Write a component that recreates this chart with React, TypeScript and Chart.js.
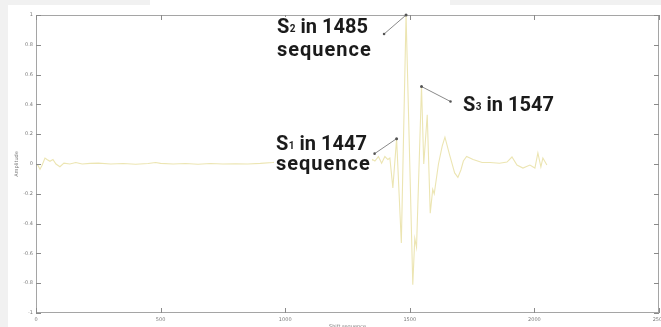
import React, { useEffect, useRef } from "react";
import { Chart, registerables } from "chart.js";

Chart.register(...registerables);

// Signal samples (sequence index, amplitude)
const seqIndex: number[] = [
  0, 8, 16, 24, 36, 44, 56, 68, 80, 96, 112, 136, 160, 185, 217, 250, 300, 350, 400, 450,
  480, 500, 550, 600, 650, 700, 750, 800, 850, 900, 950, 980, 1000, 1050, 1100, 1150, 1200,
  1250, 1300, 1340, 1350, 1360, 1374, 1387, 1400, 1412, 1420, 1432, 1447, 1466, 1485, 1512,
  1520, 1527, 1547, 1556, 1570, 1582, 1592, 1598, 1615, 1630, 1641, 1660, 1680, 1693, 1705,
  1715, 1728, 1754, 1790, 1822, 1860, 1890, 1910, 1930, 1954, 1982, 2002, 2014, 2026, 2034, 2050,
];
const amplitude: number[] = [
  0, -0.01, -0.035, -0.01, 0.04, 0.03, 0.018, 0.03, 0, -0.018, 0.006, 0, 0.01, 0, 0.004,
  0.006, 0, 0.003, -0.002, 0.003, 0.01, 0.004, 0, 0.003, -0.002, 0.003, 0, 0.002, 0, 0.004,
  0.01, 0.016, 0.005, 0.002, 0, 0.004, 0.01, 0.004, 0, 0.01, 0.03, 0.02, 0.05, 0.005, 0.05,
  0.03, 0.04, -0.16, 0.17, -0.53, 1.0, -0.81, -0.5, -0.56, 0.52, 0.0, 0.33, -0.33, -0.17,
  -0.2, 0.0, 0.12, 0.18, 0.06, -0.06, -0.09, -0.04, 0.02, 0.05, 0.03, 0.01, 0.01, 0.005,
  0.013, 0.047, -0.007, -0.027, -0.007, -0.027, 0.074, -0.02, 0.04, -0.007,
];

const xTicks: number[] = [0, 500, 1000, 1500, 2000, 2500];
const yTicks: number[] = [1, 0.8, 0.6, 0.4, 0.2, 0, -0.2, -0.4, -0.6, -0.8, -1];
const yTickLabels: string[] = ["1", "0.8", "0.6", "0.4", "0.2", "0", "-0.2", "-0.4", "-0.6", "-0.8", "-1"];

const annoSubscript: string[] = ["2", "3", "1"];
const annoSeq: number[] = [1485, 1547, 1447];
const annoAmp: number[] = [1.0, 0.52, 0.17];
const annoSecondLine: string[] = ["sequence", "", "sequence"];

const X_TITLE = "Shift sequence";
const Y_TITLE = "Amplitude";

const decorPlugin = {
  id: "decor",
  beforeDraw(chart: any) {
    const ctx = chart.ctx;
    ctx.save();
    ctx.fillStyle = "#f1f1f1";
    ctx.fillRect(0, 0, chart.width, chart.height);
    ctx.fillStyle = "#ffffff";
    ctx.fillRect(8, 5, chart.width - 8, chart.height - 5);
    ctx.fillRect(150, 0, 300, 5);
    ctx.restore();
  },
  afterDraw(chart: any) {
    const ctx = chart.ctx;
    const { left, right, top, bottom } = chart.chartArea;
    const xs = chart.scales.x;
    const ys = chart.scales.y;
    ctx.save();
    // box
    ctx.strokeStyle = "#a5a5a5";
    ctx.lineWidth = 1;
    ctx.strokeRect(Math.round(left) + 0.5, Math.round(top) + 0.5, Math.round(right - left) - 1, Math.round(bottom - top) - 1);
    // ticks
    ctx.strokeStyle = "#8a8a8a";
    ctx.beginPath();
    xTicks.forEach((v) => {
      const px = Math.round(xs.getPixelForValue(v)) + 0.5;
      ctx.moveTo(px, bottom);
      ctx.lineTo(px, bottom - 5);
      ctx.moveTo(px, top);
      ctx.lineTo(px, top + 5);
    });
    yTicks.forEach((v) => {
      const py = Math.round(ys.getPixelForValue(v)) + 0.5;
      ctx.moveTo(left, py);
      ctx.lineTo(left + 5, py);
      ctx.moveTo(right, py);
      ctx.lineTo(right - 5, py);
    });
    ctx.stroke();
    // tick labels
    ctx.fillStyle = "#7a7a7a";
    ctx.font = "5px 'DejaVu Sans'";
    ctx.textAlign = "right";
    ctx.textBaseline = "middle";
    yTicks.forEach((v, i) => {
      ctx.fillText(yTickLabels[i], left - 3, ys.getPixelForValue(v));
    });
    ctx.textAlign = "center";
    ctx.textBaseline = "top";
    xTicks.forEach((v) => {
      ctx.fillText(String(v), xs.getPixelForValue(v), bottom + 4);
    });
    // axis titles
    ctx.fillText(X_TITLE, (left + right) / 2, bottom + 11);
    ctx.save();
    ctx.translate(17, (top + bottom) / 2);
    ctx.rotate(-Math.PI / 2);
    ctx.textBaseline = "middle";
    ctx.fillText(Y_TITLE, 0, 0);
    ctx.restore();

    // annotations
    const textPos = [
      { x: 277, y: 33, gap: 23, dx: -22, dy: 19 },
      { x: 463, y: 111, gap: 0, dx: 29, dy: 15 },
      { x: 276, y: 150, gap: 20, dx: -22, dy: 15 },
    ];
    ctx.textAlign = "left";
    ctx.textBaseline = "alphabetic";
    annoSeq.forEach((_, i) => {
      const p = textPos[i];
      if (annoSecondLine[i]) {
        ctx.fillStyle = "#ffffff";
        ctx.fillRect(p.x - 2, p.y - 16, 98, p.gap + 22);
      }
    });
    annoSeq.forEach((seq, i) => {
      const p = textPos[i];
      const ax = xs.getPixelForValue(seq);
      const ay = ys.getPixelForValue(annoAmp[i]);
      const bx = ax + p.dx;
      const by = ay + p.dy;
      ctx.strokeStyle = "#8a8a8a";
      ctx.lineWidth = 1;
      ctx.beginPath();
      ctx.moveTo(ax, ay);
      ctx.lineTo(bx, by);
      ctx.stroke();
      ctx.fillStyle = "#555555";
      ctx.beginPath();
      ctx.arc(ax, ay, 1.5, 0, Math.PI * 2);
      ctx.arc(bx, by, 1.3, 0, Math.PI * 2);
      ctx.fill();
      ctx.fillStyle = "#1b1b1b";
      (ctx as any).letterSpacing = "0px";
      ctx.font = "bold 20px Roboto";
      ctx.fillText("S", p.x, p.y);
      let cx = p.x + ctx.measureText("S").width + 0.5;
      ctx.font = "bold 10px Roboto";
      ctx.fillText(annoSubscript[i], cx, p.y - 1);
      cx += ctx.measureText(annoSubscript[i]).width;
      ctx.font = "bold 20px Roboto";
      ctx.fillText(" in " + String(seq), cx, p.y);
      if (annoSecondLine[i]) {
        (ctx as any).letterSpacing = "1px";
        ctx.fillText(annoSecondLine[i], p.x, p.y + p.gap);
      }
    });
    ctx.restore();
  },
};

export default function App() {
  const canvasRef = useRef<HTMLCanvasElement | null>(null);
  useEffect(() => {
    document.body.style.margin = "0";
    const canvas = canvasRef.current;
    if (!canvas) return;
    const chart = new Chart(canvas, {
      type: "line",
      data: {
        datasets: [
          {
            data: seqIndex.map((x, i) => ({ x, y: amplitude[i] })),
            borderColor: "rgb(236, 229, 178)",
            borderWidth: 1.1,
            pointRadius: 0,
            tension: 0,
            fill: false,
          },
        ],
      },
      options: {
        animation: false,
        responsive: false,
        devicePixelRatio: 1,
        layout: { padding: { left: 36, right: 2, top: 15, bottom: 14 } },
        plugins: { legend: { display: false }, tooltip: { enabled: false } },
        scales: {
          x: { type: "linear", min: 0, max: 2500, display: false },
          y: { type: "linear", min: -1, max: 1, display: false },
        },
      },
      plugins: [decorPlugin],
    } as any);
    return () => chart.destroy();
  }, []);
  return (
    <div style={{ position: "absolute", left: 0, top: 0, width: 661, height: 327 }}>
      <canvas ref={canvasRef} width={661} height={327} style={{ width: 661, height: 327 }} />
    </div>
  );
}
